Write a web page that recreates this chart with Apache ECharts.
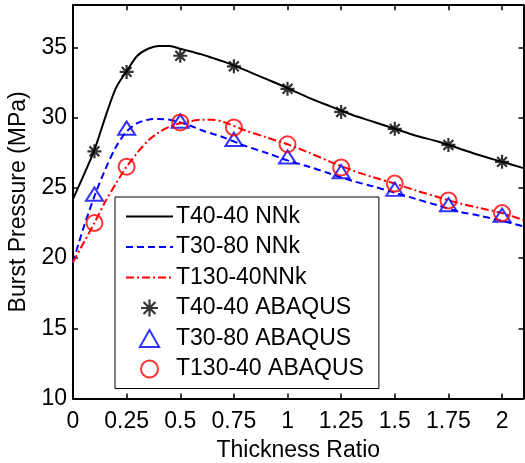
<!DOCTYPE html>
<html>
<head>
<meta charset="utf-8">
<script src="https://cdn.jsdelivr.net/npm/echarts@6/dist/echarts.min.js"></script>
<style>
html,body{margin:0;padding:0;background:#fff;}
#chart{width:525px;height:463px;}
</style>
</head>
<body>
<div id="chart"></div>
<script>
// Curve sample positions (thickness ratio)
var xCurve = [0,0.05,0.1,0.15,0.2,0.25,0.3,0.35,0.4,0.45,0.5,0.55,0.6,0.65,0.7,0.8,0.9,1.0,1.1,1.2,1.3,1.4,1.5,1.6,1.7,1.8,1.9,2.0,2.1];
var nnk4040  = [24.2,25.9,27.7,30.0,32.1,33.3,34.4,34.9,35.1,35.1,34.9,34.7,34.5,34.25,34.0,33.4,32.75,32.1,31.4,30.8,30.2,29.7,29.2,28.7,28.3,27.8,27.3,26.85,26.4];
var nnk3080  = [19.7,22.2,24.4,26.3,27.9,29.0,29.6,29.85,29.9,29.85,29.65,29.4,29.1,28.85,28.6,28.0,27.5,26.95,26.5,26.0,25.5,25.1,24.65,24.2,23.75,23.3,23.0,22.65,22.25];
var nnk13040 = [19.7,21.1,22.5,24.0,25.3,26.5,27.5,28.35,28.95,29.35,29.6,29.75,29.85,29.85,29.7,29.1,28.6,28.1,27.5,26.85,26.25,25.75,25.3,24.8,24.35,23.9,23.55,23.2,22.7];

// ABAQUS points
var xMarks = [0.1,0.25,0.5,0.75,1,1.25,1.5,1.75,2];
var abq4040  = [27.6,33.25,34.4,33.65,32.05,30.4,29.2,28.05,26.85];
var abq3080  = [24.55,29.25,29.75,28.45,27.2,26.15,24.9,23.8,23.05];
var abq13040 = [22.5,26.5,29.65,29.3,28.1,26.45,25.3,24.1,23.2];

var xTicks = [0,0.25,0.5,0.75,1,1.25,1.5,1.75,2];
var yTicks = [10,15,20,25,30,35];

var names = ['T40-40 NNk','T30-80 NNk','T130-40NNk','T40-40 ABAQUS','T30-80 ABAQUS','T130-40 ABAQUS'];

function pairs(xs, ys){ return xs.map(function(x,i){return [x, ys[i]];}); }

var FONT = 'Liberation Sans';
var starPath = 'path://M10,0L10,20M0,10L20,10M3,3L17,17M3,17L17,3';
var triPath = 'path://M8.5,0L17,15L0,15Z';

var chart = echarts.init(document.getElementById('chart'), null, {renderer:'canvas'});

function fmtX(v){ 
  for (var i=0;i<xTicks.length;i++){ if (Math.abs(xTicks[i]-v)<1e-9) return String(xTicks[i]); }
  return '';
}
function fmtY(v){
  for (var i=0;i<yTicks.length;i++){ if (Math.abs(yTicks[i]-v)<1e-9) return String(yTicks[i]); }
  return '';
}

var hidden = {color:'rgba(0,0,0,0)', borderColor:'rgba(0,0,0,0)', borderWidth:0};
var axisLineStyle = {color:'#000', width:2};
var option = {
  animation:false,
  backgroundColor:'#fff',
  textStyle:{fontFamily:FONT},
  grid:{left:73, right:1.5, top:5.2, bottom:64.5, containLabel:false, outerBoundsMode:'none'},
  xAxis:[{
    type:'value', min:0, max:2.1, interval:0.25, position:'bottom',
    axisLine:{show:true, onZero:false, lineStyle:axisLineStyle},
    axisTick:{show:true, inside:true, length:5, lineStyle:{color:'#000', width:1.5}},
    axisLabel:{show:true, color:'#000', fontSize:23, fontFamily:FONT, margin:12, showMaxLabel:false, formatter:fmtX},
    splitLine:{show:false},
    name:'Thickness Ratio', nameLocation:'middle', nameGap:41,
    nameTextStyle:{color:'#000', fontSize:23, fontFamily:FONT}
  },{
    type:'value', min:0, max:2.1, interval:0.25, position:'top',
    axisLine:{show:true, onZero:false, lineStyle:axisLineStyle},
    axisTick:{show:true, inside:true, length:5, lineStyle:{color:'#000', width:1.5}},
    axisLabel:{show:false}, splitLine:{show:false}
  }],
  yAxis:[{
    type:'value', min:10, max:38, interval:5, position:'left',
    axisLine:{show:true, onZero:false, lineStyle:axisLineStyle},
    axisTick:{show:true, inside:true, length:5, lineStyle:{color:'#000', width:1.5}},
    axisLabel:{show:true, color:'#000', fontSize:23, fontFamily:FONT, margin:6, showMaxLabel:false, formatter:fmtY},
    splitLine:{show:false},
    name:'Burst Pressure (MPa)', nameLocation:'middle', nameGap:35,
    nameTextStyle:{color:'#000', fontSize:23, fontFamily:FONT}
  },{
    type:'value', min:10, max:38, interval:5, position:'right',
    axisLine:{show:true, onZero:false, lineStyle:axisLineStyle},
    axisTick:{show:true, inside:true, length:5, lineStyle:{color:'#000', width:1.5}},
    axisLabel:{show:false}, splitLine:{show:false}
  }],
  legend:{
    orient:'vertical', left:115, top:197,
    backgroundColor:'#fff', borderColor:'#000', borderWidth:1, borderRadius:0,
    padding:[8,15,8,10], itemGap:7.5, itemWidth:47, itemHeight:17, symbolKeepAspect:true,
    textStyle:{color:'#000', fontSize:23, fontFamily:FONT, lineHeight:22, padding:[0,0,0,-2]},
    data:[
      {name:names[0], itemStyle:hidden},
      {name:names[1], itemStyle:hidden},
      {name:names[2], itemStyle:hidden},
      {name:names[3], icon:starPath, itemStyle:{color:'rgba(0,0,0,0)', borderColor:'#000', borderWidth:2.2}},
      {name:names[4], icon:triPath, itemStyle:{color:'rgba(0,0,0,0)', borderColor:'#0000ff', borderWidth:2}},
      {name:names[5], icon:'circle', itemStyle:{color:'rgba(0,0,0,0)', borderColor:'#ff0000', borderWidth:2}}
    ]
  },
  series:[
    {name:names[0], type:'line', data:pairs(xCurve,nnk4040), smooth:0.3, symbol:'none', showSymbol:false,
     lineStyle:{color:'#000', width:2, type:'solid'}, itemStyle:{color:'#000'}},
    {name:names[1], type:'line', data:pairs(xCurve,nnk3080), smooth:0.3, symbol:'none', showSymbol:false,
     lineStyle:{color:'#0000ff', width:2, type:[7,4]}, itemStyle:{color:'#0000ff'}},
    {name:names[2], type:'line', data:pairs(xCurve,nnk13040), smooth:0.3, symbol:'none', showSymbol:false,
     lineStyle:{color:'#ff0000', width:2, type:[8,3,2,3]}, itemStyle:{color:'#ff0000'}},
    {name:names[3], type:'scatter', data:pairs(xMarks,abq4040), symbol:starPath, symbolSize:14,
     itemStyle:{color:'rgba(0,0,0,0)', borderColor:'#000', borderWidth:2.2}, z:5},
    {name:names[4], type:'scatter', data:pairs(xMarks,abq3080), symbol:triPath, symbolSize:[17,15], symbolKeepAspect:true,
     itemStyle:{color:'rgba(0,0,0,0)', borderColor:'#0000ff', borderWidth:2}, z:5},
    {name:names[5], type:'scatter', data:pairs(xMarks,abq13040), symbol:'circle', symbolSize:16,
     itemStyle:{color:'rgba(0,0,0,0)', borderColor:'#ff0000', borderWidth:2}, z:5}
  ]
};
chart.setOption(option);
</script>
</body>
</html>
